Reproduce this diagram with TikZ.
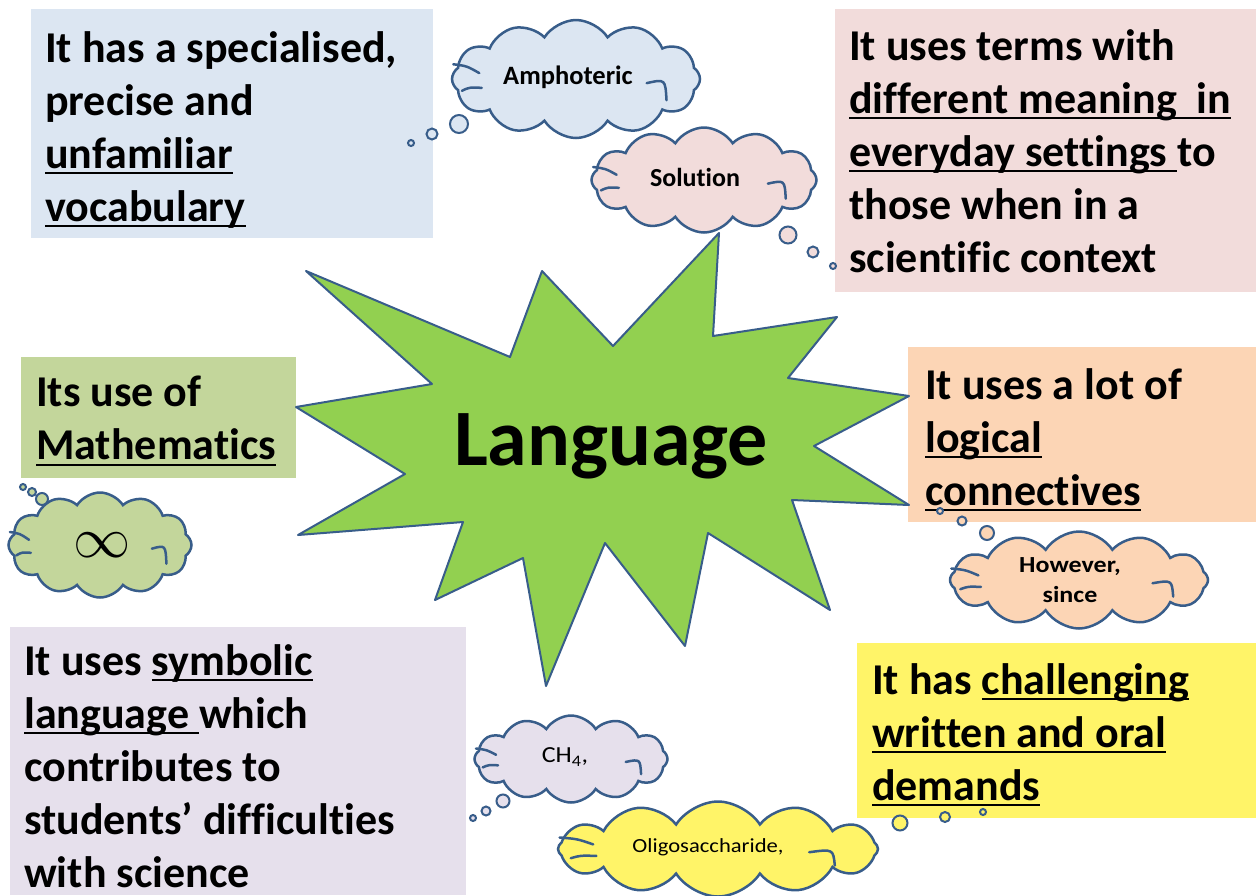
\documentclass[tikz,border=0pt]{standalone}
\usepackage{fontspec}
\setmainfont[Ligatures=NoCommon]{Carlito}
\newfontfamily\widefont[FakeStretch=1.13,Ligatures=NoCommon]{Carlito}
\usetikzlibrary{shapes.symbols}

\definecolor{blueF}{RGB}{220,230,242}
\definecolor{pinkF}{RGB}{242,220,219}
\definecolor{greenF}{RGB}{195,214,155}
\definecolor{orangeF}{RGB}{252,213,181}
\definecolor{purpleF}{RGB}{230,224,236}
\definecolor{yellowF}{RGB}{255,244,104}
\definecolor{starF}{RGB}{146,208,80}
\definecolor{edgeC}{RGB}{56,93,138}

% underline that runs through the descenders
\newcommand{\undl}[1]{\setbox0\hbox{#1}\rlap{\rule[-0.14em]{\wd0}{0.045em}}\box0}

\begin{document}
\begin{tikzpicture}[x=1pt,y=-1pt,
  box/.style={anchor=north west,inner sep=0,outer sep=0},
  say/.style={anchor=north west,inner sep=0,align=left,font=\bfseries\fontsize{44}{53}\selectfont},
  puffy/.style={cloud,cloud puffs=12,cloud puff arc=115,cloud ignores aspect,draw=edgeC,line width=2.5,inner sep=0},
  hook/.style={draw=edgeC,line width=2.5,line cap=round},
  bubble/.style={draw=edgeC,line width=2}]
  \useasboundingbox (0,0) rectangle (1256,895);

  % coloured boxes
  \node[box,fill=blueF,minimum width=402,minimum height=229] (vocabbox) at (31,9) {};
  \node[box,fill=pinkF,minimum width=421,minimum height=283] (termsbox) at (835,9) {};
  \node[box,fill=greenF,minimum width=275,minimum height=121] (mathsbox) at (21,357) {};
  \node[box,fill=orangeF,minimum width=348,minimum height=175] (logicbox) at (908,347) {};
  \node[box,fill=purpleF,minimum width=456,minimum height=268] (symbbox) at (10,627) {};
  \node[box,fill=yellowF,minimum width=399,minimum height=175] (demandbox) at (857,643) {};

  % the star
  \draw[fill=starF,draw=edgeC,line width=2,line join=round]
    (306,271) -- (510,357) -- (542,271) -- (613,346) -- (719,233) -- (713,336)
    -- (837,317) -- (788,378) -- (909,396) -- (814,446) -- (909,505) -- (792,500)
    -- (830,610) -- (708,533) -- (685,646) -- (605,543) -- (546,686) -- (523,558)
    -- (435,600) -- (463,522) -- (298,535) -- (405,474) -- (296,407) -- (432,384) -- cycle;
  \node[font=\bfseries\fontsize{80}{90}\selectfont,anchor=base] (lang) at (611,465) {Language};

  % box texts
  \node[say] (vocab) at (45,31) {It has a specialised,\\precise and\\\undl{unfamiliar}\\\undl{vocabulary}};
  \node[say] (terms) at (849,29) {It uses terms with\\\undl{different meaning\ \ in}\\\undl{everyday settings\ }to\\those when in a\\scientific context};
  \node[say] (maths) at (36,376) {Its use of\\\undl{Mathematics}};
  \node[say] (logic) at (925,368) {It uses a lot of\\\undl{logical}\\\undl{connectives}};
  \node[say] (symb) at (24,644) {It uses \undl{symbolic}\\\undl{language\ }which\\contributes to\\students’ difficulties\\with science};
  \node[say] (demand) at (872,663) {It has \undl{challenging}\\\undl{written and oral}\\\undl{demands}};

  % thought clouds
  \node[puffy,fill=blueF,minimum width=248,minimum height=118] (amph) at (576,79) {};
  \node[puffy,fill=pinkF,minimum width=225,minimum height=105] (solu) at (704,180) {};
  \node[puffy,fill=greenF,minimum width=183,minimum height=105] (infy) at (100,545) {};
  \node[puffy,fill=orangeF,minimum width=258,minimum height=97] (howev) at (1079,580) {};
  \node[puffy,fill=purpleF,minimum width=193,minimum height=87] (meth) at (571,759) {};
  \node[puffy,fill=yellowF,minimum width=320,minimum height=95] (oligo) at (718,849) {};

  % inner strokes of the clouds
  \foreach \c/\a/\b in {amph/124/59,solu/112/52,infy/91/52,howev/129/46,meth/96/42,oligo/160/46}{
    \begin{scope}[shift={(\c.center)},x=\a pt,y=-\b pt]
      \draw[hook] (-0.99,-0.25) .. controls (-0.88,-0.22) .. (-0.78,-0.1);
      \draw[hook] (-0.92,0.2) .. controls (-0.86,0.14) .. (-0.76,0.15);
      \draw[hook] (0.57,0.07) .. controls (0.72,0.0) .. (0.73,0.36);
    \end{scope}
  }

  % cloud words
  \node[font=\bfseries\fontsize{26.5}{30}\selectfont] (amphtxt) at (568,77) {Amphoteric};
  \node[font=\bfseries\fontsize{26}{30}\selectfont] (solutxt) at (695,177) {Solution};
  \node[scale=2.3,transform shape,font=\fontsize{24.88}{30}\selectfont] (infsym) at (102,545) {$\infty$};
  \node[align=center,font=\widefont\bfseries\fontsize{23}{30}\selectfont] (howevtxt) at (1070,580) {However,\\since};
  \node[font=\widefont\fontsize{23}{26}\selectfont] (methtxt) at (565,757) {CH\textsubscript{4},};
  \node[font=\widefont\fontsize{20}{24}\selectfont] (oligotxt) at (708,847) {Oligosaccharide,};

  % thought bubbles
  \draw[bubble,fill=blueF] (459,124) circle[radius=9] (432,134) circle[radius=5.5] (411,143) circle[radius=3];
  \draw[bubble,fill=pinkF] (788,235) circle[radius=8.5] (813,252) circle[radius=5.5] (833,266) circle[radius=3];
  \draw[bubble,fill=greenF] (42,499) circle[radius=6] (32,492) circle[radius=4] (23,487) circle[radius=3];
  \draw[bubble,fill=orangeF] (987,533) circle[radius=7] (962,521) circle[radius=4.5] (940,511) circle[radius=3];
  \draw[bubble,fill=purpleF] (503,801) circle[radius=6.5] (486,811) circle[radius=4.5] (473,818) circle[radius=3];
  \draw[bubble,fill=yellowF] (900,823) circle[radius=7.5] (945,817) circle[radius=5] (983,812) circle[radius=3];
\end{tikzpicture}
\end{document}
